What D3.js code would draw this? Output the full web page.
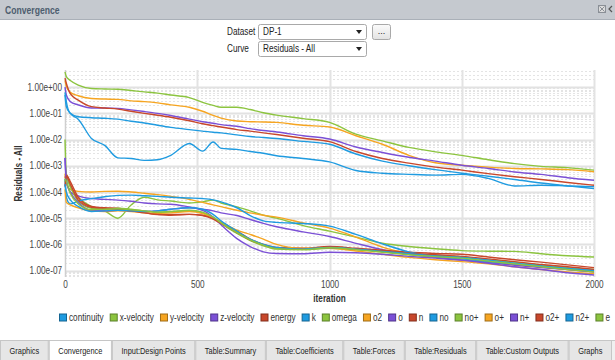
<!DOCTYPE html>
<html><head><meta charset="utf-8">
<script src="https://cdn.jsdelivr.net/npm/d3@7"></script>
<style>
html,body{margin:0;padding:0;background:#fff;overflow:hidden;}
svg{display:block;}
</style></head><body>
<svg id="chart" width="615" height="360"></svg>
<script>
// ---------------- data ----------------
const iterations = [0,5,20,50,100,150,200,250,300,350,400,470,520,560,590,650,700,750,800,900,1000,1100,1200,1300,1400,1500,1600,1700,1800,1900,2000];

const seriesNames = ["continuity","x-velocity","y-velocity","z-velocity","energy","k","omega","o2","o","n","no","no+","o+","n+","o2+","n2+","e"];

const continuity = [0.5,0.18,0.1,0.06,0.011,6.0e-3,2.0e-3,1.9e-3,1.6e-3,1.7e-3,2.5e-3,7.1e-3,3.6e-3,8.1e-3,4.6e-3,4.2e-3,3.5e-3,3.0e-3,2.4e-3,1.9e-3,1.4e-3,6.6e-4,5.2e-4,4.7e-4,4.4e-4,4.7e-4,3.3e-4,1.7e-4,1.8e-4,1.7e-4,1.6e-4];
const xVelocity = [3.8,2.5,1.8,1.2,0.89,0.85,0.83,0.74,0.66,0.59,0.5,0.4,0.26,0.2,0.17,0.17,0.14,0.105,0.085,0.063,0.045,0.016,8.9e-3,5.0e-3,3.4e-3,2.5e-3,1.7e-3,1.2e-3,9.5e-4,8.5e-4,6.8e-4];
const yVelocity = [1.8,1.1,0.63,0.47,0.37,0.35,0.34,0.3,0.28,0.25,0.21,0.17,0.12,0.083,0.066,0.051,0.048,0.047,0.045,0.035,0.03,0.014,6.6e-3,2.5e-3,1.3e-3,1.05e-3,8.9e-4,7.9e-4,7.6e-4,7.1e-4,5.9e-4];
const zVelocity = [1.0,0.5,0.28,0.21,0.16,0.16,0.155,0.135,0.117,0.1,0.083,0.06,0.048,0.042,0.037,0.032,0.026,0.022,0.0195,0.014,0.0105,5.2e-3,3.2e-3,2.1e-3,1.5e-3,1.05e-3,7.9e-4,5.8e-4,4.7e-4,3.5e-4,2.8e-4];
const energy = [2.2,1.4,0.56,0.32,0.18,0.16,0.145,0.12,0.1,0.085,0.071,0.052,0.04,0.034,0.03,0.024,0.021,0.018,0.0155,0.0112,8.3e-3,3.5e-3,1.9e-3,1.26e-3,8.9e-4,6.8e-4,5.0e-4,3.8e-4,3.0e-4,2.3e-4,1.8e-4];
const kResidual = [0.63,0.28,0.1,0.074,0.068,0.065,0.06,0.05,0.043,0.035,0.029,0.024,0.021,0.019,0.018,0.015,0.013,0.012,0.011,8.5e-3,6.6e-3,2.8e-3,1.5e-3,1.0e-3,7.1e-4,5.2e-4,4.0e-4,3.0e-4,2.2e-4,1.7e-4,1.35e-4];
const omega = [1.0e-2,5.0e-4,1.6e-4,6.3e-5,2.8e-5,1.9e-5,1.0e-5,3.2e-5,6.3e-5,5.0e-5,4.5e-5,3.8e-5,4.2e-5,4.9e-5,3.8e-5,2.7e-5,1.9e-5,1.3e-5,1.0e-5,5.2e-6,3.2e-6,1.9e-6,1.1e-6,8.3e-7,6.8e-7,5.8e-7,5.5e-7,5.4e-7,4.4e-7,3.7e-7,3.3e-7];
const o2 = [5.0e-4,2.0e-4,1.26e-4,1.05e-4,1.0e-4,1.05e-4,1.07e-4,1.0e-4,8.9e-5,7.9e-5,6.8e-5,5.2e-5,4.0e-5,3.2e-5,2.75e-5,2.0e-5,1.6e-5,1.3e-5,1.1e-5,6.6e-6,4.2e-6,1.9e-6,7.9e-7,4.5e-7,3.2e-7,2.5e-7,2.1e-7,1.7e-7,1.4e-7,1.1e-7,8.9e-8];
const oSpecies = [2.0e-3,3.2e-4,1.0e-4,7.1e-5,5.6e-5,5.2e-5,4.9e-5,4.4e-5,3.8e-5,3.5e-5,3.4e-5,2.7e-5,2.2e-5,1.9e-5,1.6e-5,1.26e-5,8.9e-6,6.3e-6,4.7e-6,3.0e-6,2.0e-6,1.1e-6,6.3e-7,4.2e-7,3.2e-7,2.5e-7,2.0e-7,1.6e-7,1.3e-7,1.1e-7,8.9e-8];
const nSpecies = [3.5e-4,4.5e-4,2.5e-4,6.3e-5,2.8e-5,2.5e-5,2.4e-5,2.0e-5,1.66e-5,1.38e-5,1.38e-5,1.4e-5,1.3e-5,1.0e-5,7.1e-6,3.2e-6,1.6e-6,1.0e-6,7.6e-7,7.1e-7,8.3e-7,7.1e-7,6.0e-7,5.0e-7,4.5e-7,4.2e-7,3.3e-7,2.6e-7,2.1e-7,1.66e-7,1.3e-7];
const no = [3.2e-4,6.3e-5,3.5e-5,4.5e-5,5.6e-5,6.6e-5,7.4e-5,7.6e-5,7.2e-5,6.8e-5,6.3e-5,5.9e-5,5.6e-5,5.0e-5,4.2e-5,2.5e-5,1.26e-5,7.9e-6,6.9e-6,6.3e-6,5.0e-6,2.4e-6,1.05e-6,5.2e-7,3.5e-7,2.8e-7,2.2e-7,1.8e-7,1.5e-7,1.2e-7,1.0e-7];
const noPlus = [2.5e-4,3.5e-4,1.6e-4,4.5e-5,2.4e-5,2.2e-5,2.4e-5,2.2e-5,1.9e-5,1.66e-5,1.74e-5,1.9e-5,1.6e-5,1.05e-5,6.3e-6,2.6e-6,1.4e-6,8.9e-7,6.6e-7,6.3e-7,7.1e-7,6.3e-7,5.2e-7,4.4e-7,3.8e-7,3.3e-7,2.6e-7,2.1e-7,1.66e-7,1.3e-7,1.1e-7];
const oPlus = [1.26e-4,4.0e-5,3.2e-5,2.5e-5,1.9e-5,1.8e-5,1.9e-5,1.8e-5,1.6e-5,1.5e-5,1.6e-5,1.8e-5,1.5e-5,1.0e-5,7.1e-6,3.5e-6,2.4e-6,1.6e-6,1.0e-6,7.1e-7,7.1e-7,5.6e-7,4.2e-7,3.2e-7,2.6e-7,2.2e-7,1.8e-7,1.4e-7,1.1e-7,8.9e-8,7.6e-8];
const nPlus = [2.0e-3,2.5e-4,1.0e-4,4.0e-5,2.0e-5,1.9e-5,2.0e-5,1.9e-5,1.8e-5,1.9e-5,2.2e-5,2.5e-5,2.0e-5,1.1e-5,5.6e-6,1.66e-6,8.3e-7,5.2e-7,4.5e-7,4.4e-7,5.0e-7,4.8e-7,4.2e-7,3.5e-7,3.0e-7,2.5e-7,1.9e-7,1.4e-7,1.1e-7,8.3e-8,6.8e-8];
const o2Plus = [1.6e-4,4.0e-4,2.0e-4,5.0e-5,2.6e-5,2.4e-5,2.2e-5,1.9e-5,1.6e-5,1.4e-5,1.3e-5,1.4e-5,1.26e-5,9.3e-6,6.3e-6,2.8e-6,1.5e-6,9.5e-7,7.2e-7,6.6e-7,7.6e-7,6.6e-7,5.5e-7,4.6e-7,4.0e-7,3.5e-7,2.8e-7,2.2e-7,1.7e-7,1.4e-7,1.1e-7];
const n2Plus = [2.0e-4,1.0e-4,5.0e-5,2.8e-5,1.8e-5,1.9e-5,2.0e-5,1.9e-5,1.8e-5,1.9e-5,2.2e-5,2.5e-5,2.2e-5,1.4e-5,7.9e-6,3.2e-6,1.6e-6,1.0e-6,7.6e-7,6.6e-7,7.6e-7,6.6e-7,5.4e-7,4.4e-7,3.6e-7,3.2e-7,2.5e-7,1.9e-7,1.5e-7,1.2e-7,1.0e-7];
const eSpecies = [3.2e-4,2.5e-4,8.9e-5,3.5e-5,2.1e-5,2.2e-5,2.3e-5,2.1e-5,1.9e-5,1.7e-5,1.8e-5,2.0e-5,1.7e-5,1.1e-5,6.6e-6,2.8e-6,1.5e-6,9.3e-7,6.9e-7,6.3e-7,7.4e-7,6.3e-7,5.0e-7,4.0e-7,3.4e-7,3.0e-7,2.3e-7,1.8e-7,1.4e-7,1.1e-7,8.9e-8];

const xTickValues = [0,500,1000,1500,2000];
const yTickValues = [1e0,1e-1,1e-2,1e-3,1e-4,1e-5,1e-6,1e-7];
const tabLabels = ["Graphics","Convergence","Input:Design Points","Table:Summary","Table:Coefficients","Table:Forces","Table:Residuals","Table:Custom Outputs","Graphs"];
const selectedTab = "Convergence";
const panelTitle = "Convergence";
const datasetLabel = "Dataset", datasetValue = "DP-1";
const curveLabel = "Curve", curveValue = "Residuals - All";
const yAxisTitle = "Residuals - All";
const xAxisTitle = "iteration";

// ---------------- drawing ----------------
const seriesValues = [continuity,xVelocity,yVelocity,zVelocity,energy,kResidual,omega,o2,oSpecies,nSpecies,no,noPlus,oPlus,nPlus,o2Plus,n2Plus,eSpecies];
const palette = ["#1f9be0","#8cc43f","#f6a521","#7b50d6","#c8472b"];
const FONT = "'Liberation Sans',Arial,sans-serif";
const SQUEEZE = 0.82;   // emulate the narrow UI face
const W = 615, H = 360;
const svg = d3.select("#chart").attr("font-family", FONT);

function squeeze(sel, f){
  let w = 0;
  sel.each(function(){
    const n = this;
    const len = n.getComputedTextLength() * (f || SQUEEZE);
    n.setAttribute("textLength", len);
    n.setAttribute("lengthAdjust", "spacingAndGlyphs");
    w = len;
  });
  return w;
}

const plot = {l:65, r:594, t:70, b:277};
const x = d3.scaleLinear().domain([0,2000]).range([plot.l, plot.r]);
const y = d3.scaleLog().domain([5.7e-8, 4.5]).range([plot.b, plot.t]);

// title bar
svg.append("rect").attr("x",0).attr("y",0).attr("width",W).attr("height",19).attr("fill","#c5c9cf");
svg.append("line").attr("x1",0).attr("x2",W).attr("y1",19.5).attr("y2",19.5).attr("stroke","#aab0b8");
squeeze(svg.append("text").attr("x",5).attr("y",13.5).attr("font-size",10.5)
  .attr("font-weight","bold").attr("fill","#4d5d6e").text(panelTitle));
svg.append("rect").attr("x",598.5).attr("y",5.5).attr("width",7).attr("height",7).attr("fill","#dcdcdc").attr("stroke","#8a8f96");
svg.append("path").attr("d","M599.5,6.5L604.5,11.5M604.5,6.5L599.5,11.5").attr("stroke","#8a8f96");
svg.append("path").attr("d","M612,6L609,9L612,12").attr("fill","none").attr("stroke","#555").attr("stroke-width",1.2);

// dropdown controls
const defs = svg.append("defs");
const grad = defs.append("linearGradient").attr("id","btn").attr("x1",0).attr("x2",0).attr("y1",0).attr("y2",1);
grad.append("stop").attr("offset",0).attr("stop-color","#fbfbfb");
grad.append("stop").attr("offset",1).attr("stop-color","#e2e2e2");
function dropdown(yTop, label, value, withButton){
  squeeze(svg.append("text").attr("x",227).attr("y",yTop+10.5).attr("font-size",10).attr("fill","#222").text(label));
  svg.append("rect").attr("x",258.5).attr("y",yTop+0.5).attr("width",108).attr("height",15).attr("rx",2)
    .attr("fill","#fff").attr("stroke","#a9a9a9");
  squeeze(svg.append("text").attr("x",263).attr("y",yTop+11).attr("font-size",10).attr("fill","#222").text(value));
  svg.append("path").attr("d",`M356,${yTop+6}L362,${yTop+6}L359,${yTop+10}Z`).attr("fill","#222");
  if (withButton){
    svg.append("rect").attr("x",372.5).attr("y",yTop+0.5).attr("width",18).attr("height",15).attr("rx",2)
      .attr("fill","url(#btn)").attr("stroke","#a9a9a9");
    svg.append("text").attr("x",381.5).attr("y",yTop+10).attr("text-anchor","middle").attr("font-size",9).attr("fill","#222").text("...");
  }
}
dropdown(24, datasetLabel, datasetValue, true);
dropdown(41, curveLabel, curveValue, false);

// grid
const gridG = svg.append("g");
const [ymin, ymax] = y.domain();
for (let e = -8; e <= 0; e++){
  for (let m = 1; m <= 9; m++){
    const v = m * Math.pow(10, e);
    if (v < ymin || v > ymax) continue;
    const yy = Math.round(y(v)) + 0.5;
    if (m === 1){
      gridG.append("line").attr("x1",plot.l).attr("x2",plot.r).attr("y1",yy).attr("y2",yy)
        .attr("stroke","#e2e2e2").attr("stroke-width",2);
    } else {
      gridG.append("line").attr("x1",plot.l).attr("x2",plot.r).attr("y1",yy).attr("y2",yy)
        .attr("stroke","#e4e4e4").attr("stroke-width",1).attr("stroke-dasharray","2,2");
    }
  }
}
xTickValues.forEach(t => {
  if (t === 0) return;
  const xx = Math.round(x(t)) + 0.5;
  gridG.append("line").attr("x1",xx).attr("x2",xx).attr("y1",plot.t).attr("y2",plot.b)
    .attr("stroke","#e3e3e3").attr("stroke-width",2);
});
gridG.append("line").attr("x1",plot.l+0.5).attr("x2",plot.l+0.5).attr("y1",plot.t).attr("y2",plot.b)
  .attr("stroke","#cfcfcf").attr("stroke-width",1.5);

// series lines
const line = d3.line().x(d => x(d[0])).y(d => y(d[1])).curve(d3.curveMonotoneX);
const linesG = svg.append("g");
seriesValues.forEach((vals, i) => {
  const pts = iterations.map((it, j) => [it, vals[j]]);
  linesG.append("path").datum(pts).attr("d", line).attr("fill","none")
    .attr("stroke", palette[i % palette.length]).attr("stroke-width",1.4).attr("stroke-linejoin","round");
});

// axes labels
const fmt = v => v.toExponential(2).replace(/e([+-])(\d)$/, "e$10$2");
const yAxisG = svg.append("g").attr("transform",`translate(${plot.l},0)`)
  .call(d3.axisLeft(y).tickValues(yTickValues).tickFormat(fmt).tickSize(0).tickPadding(3));
yAxisG.select(".domain").remove();
yAxisG.selectAll("text").attr("font-family",FONT).attr("font-size",10).attr("fill","#444");
yAxisG.selectAll("text").each(function(){ squeeze(d3.select(this)); });

const xAxisG = svg.append("g").attr("transform",`translate(0,${plot.b})`)
  .call(d3.axisBottom(x).tickValues(xTickValues).tickFormat(d3.format("d")).tickSize(0).tickPadding(4));
xAxisG.select(".domain").remove();
xAxisG.selectAll("text").attr("font-family",FONT).attr("font-size",10).attr("fill","#444");
xAxisG.selectAll("text").each(function(){ squeeze(d3.select(this)); });

squeeze(svg.append("text").attr("transform",`translate(22,${(plot.t+plot.b)/2}) rotate(-90)`).attr("text-anchor","middle")
  .attr("font-size",10).attr("font-weight","bold").attr("fill","#333").text(yAxisTitle));
squeeze(svg.append("text").attr("x",(plot.l+plot.r)/2).attr("y",302).attr("text-anchor","middle")
  .attr("font-size",10).attr("font-weight","bold").attr("fill","#333").text(xAxisTitle));

// legend
const legG = svg.append("g");
const items = seriesNames.map((name, i) => {
  const g = legG.append("g");
  g.append("rect").attr("x",0.5).attr("y",-3.5).attr("width",7).attr("height",7)
    .attr("fill", palette[i % palette.length]).attr("stroke", d3.color(palette[i % palette.length]).darker(1.2));
  const t = g.append("text").attr("x",10).attr("y",3.5).attr("font-size",10).attr("fill","#333").text(name);
  return {g, w: 10 + squeeze(t)};
});
const legLeft = 59, legRight = 610;
const sumW = d3.sum(items, d => d.w);
const gap = Math.max(3, (legRight - legLeft - sumW) / (items.length - 1));
let lx = legLeft + Math.max(0, (legRight - legLeft - sumW - gap*(items.length-1)) / 2);
items.forEach(it => { it.g.attr("transform",`translate(${lx},317.5)`); lx += it.w + gap; });

// tabs
const tabY = 341, tabH = 19;
svg.append("rect").attr("x",0).attr("y",tabY-1).attr("width",W).attr("height",H-tabY+1).attr("fill","#f0f0f0");
svg.append("line").attr("x1",0).attr("x2",W).attr("y1",tabY-0.5).attr("y2",tabY-0.5).attr("stroke","#c8c8c8");
let tx = 0;
const tabsG = svg.append("g");
const tabItems = tabLabels.map(label => {
  const g = tabsG.append("g");
  const r = g.append("rect");
  const t = g.append("text").attr("font-size",9.5).attr("fill","#222").attr("text-anchor","middle").text(label);
  return {g, r, t, label, w: squeeze(t, 0.78)};
});
const totalText = d3.sum(tabItems, d => d.w);
const pad = (612 - totalText) / tabItems.length;
tabItems.forEach(it => {
  const w = it.w + pad;
  const sel = it.label === selectedTab;
  it.r.attr("x",tx+0.5).attr("y",tabY-0.5).attr("width",w-1).attr("height",tabH+2)
    .attr("fill", sel ? "#ffffff" : "#e6e6e6").attr("stroke","#c6c6c6");
  it.t.attr("x", tx + w/2).attr("y", tabY + 12.5);
  tx += w;
});
</script>
</body></html>
